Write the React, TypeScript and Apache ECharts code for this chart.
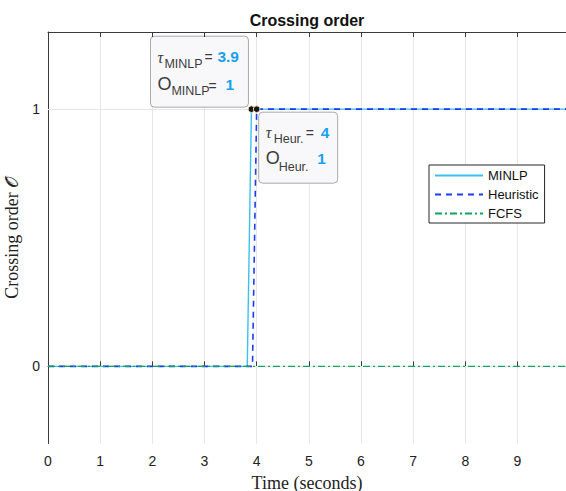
import React, { useEffect, useRef } from "react";
import * as echarts from "echarts";

// ---- data ----
const xTickValues = [0, 1, 2, 3, 4, 5, 6, 7, 8, 9];
const yTickValues = [0, 1];
const minlpTime = [0, 3.82, 3.9, 10];
const minlpOrder = [0, 0, 1, 1];
const heurTime = [0, 3.92, 4.0, 10];
const heurOrder = [0, 0, 1, 1];
const fcfsTime = [0, 10];
const fcfsOrder = [0, 0];
const seriesNames = ["MINLP", "Heuristic", "FCFS"];
const tipMinlp = { tau: 3.9, order: 1 };
const tipHeur = { tau: 4, order: 1 };

const X_MIN = 0;
const X_MAX = 9.93;
const Y_MIN = -0.3;
const Y_MAX = 1.3;

const SANS = "'Liberation Sans', Arial, Helvetica, sans-serif";
const SERIF = "'Liberation Serif', 'DejaVu Serif', serif";
const AXIS_COLOR = "#3a3a3a";
const GRID_COLOR = "#e6e6e6";
const VAL_COLOR = "#1b9ff0";
const TXT_COLOR = "#3c3c3c";

const zip = (xs: number[], ys: number[]) => xs.map((x, i) => [x, ys[i]]);

export default function App() {
  const ref = useRef<HTMLDivElement>(null);

  useEffect(() => {
    if (!ref.current) return;
    const chart = echarts.init(ref.current, undefined, { renderer: "svg" });

    const option: any = {
      animation: false,
      backgroundColor: "#ffffff",
      title: {
        text: "Crossing order",
        left: 307,
        top: 12,
        textAlign: "center",
        padding: 0,
        textStyle: { fontFamily: SANS, fontSize: 16, fontWeight: "bold", color: "#111" },
      },
      legend: {
        data: seriesNames,
        orient: "vertical",
        left: 429,
        top: 165,
        padding: [4, 6, 3, 5],
        itemWidth: 48,
        itemHeight: 14,
        itemGap: 6,
        borderColor: "#262626",
        borderWidth: 1,
        backgroundColor: "#ffffff",
        itemStyle: { opacity: 0 },
        textStyle: { fontFamily: SANS, fontSize: 13, color: "#111" },
      },
      grid: { left: 48, right: 0, top: 32, bottom: 47.5, containLabel: false, outerBoundsMode: "none" },
      xAxis: [
        {
          type: "value",
          min: X_MIN,
          max: X_MAX,
          interval: 1,
          position: "bottom",
          name: "Time (seconds)",
          nameLocation: "middle",
          nameGap: 30,
          nameTextStyle: { fontFamily: SERIF, fontSize: 18, color: "#222" },
          axisLine: { show: true, lineStyle: { color: AXIS_COLOR, width: 1 } },
          axisTick: { show: true, inside: true, length: 5, lineStyle: { color: AXIS_COLOR } },
          axisLabel: {
            fontFamily: SANS,
            fontSize: 14,
            color: "#222",
            margin: 10,
            showMaxLabel: false,
            formatter: (v: number) => (xTickValues.includes(v) ? String(v) : ""),
          },
          splitLine: { show: true, lineStyle: { color: GRID_COLOR, width: 1 } },
        },
        {
          type: "value",
          min: X_MIN,
          max: X_MAX,
          interval: 1,
          position: "top",
          axisLine: { show: true, lineStyle: { color: AXIS_COLOR, width: 1 } },
          axisTick: { show: true, inside: true, length: 5, lineStyle: { color: AXIS_COLOR } },
          axisLabel: { show: false },
          splitLine: { show: false },
        },
      ],
      yAxis: {
        type: "value",
        min: Y_MIN,
        max: Y_MAX,
        name: "Crossing order 𝒪",
        nameLocation: "middle",
        nameGap: 22,
        nameRotate: 90,
        nameTextStyle: { fontFamily: SERIF, fontSize: 18, color: "#222" },
        axisLine: { show: true, lineStyle: { color: AXIS_COLOR, width: 1 } },
        axisTick: {
          show: true,
          inside: true,
          length: 5,
          customValues: yTickValues,
          lineStyle: { color: AXIS_COLOR },
        },
        axisLabel: {
          fontFamily: SANS,
          fontSize: 14,
          color: "#222",
          margin: 8,
          customValues: yTickValues,
        },
        splitLine: { show: false },
      },
      series: [
        {
          name: seriesNames[0],
          type: "line",
          data: zip(minlpTime, minlpOrder),
          symbol: "none",
          lineStyle: { color: "#3cc0f0", width: 1.4, type: "solid" },
          itemStyle: { color: "#3cc0f0" },
          z: 3,
        },
        {
          name: seriesNames[1],
          type: "line",
          data: zip(heurTime, heurOrder),
          symbol: "none",
          lineStyle: { color: "#1a3cf2", width: 1.6, type: [6, 5] },
          itemStyle: { color: "#1a3cf2" },
          z: 4,
        },
        {
          name: seriesNames[2],
          type: "line",
          data: zip(fcfsTime, fcfsOrder),
          symbol: "none",
          lineStyle: { color: "#10a65a", width: 1.4, type: [7, 3, 2, 3] },
          itemStyle: { color: "#10a65a" },
          z: 5,
          markLine: {
            silent: true,
            z: 1,
            symbol: "none",
            label: { show: false },
            lineStyle: { color: GRID_COLOR, width: 1, type: "solid" },
            data: yTickValues.map((v) => ({ yAxis: v })),
          },
        },
      ],
    };

    chart.setOption(option);

    const p1 = chart.convertToPixel({ xAxisIndex: 0, yAxisIndex: 0 }, [tipMinlp.tau, tipMinlp.order]) as number[];
    const p2 = chart.convertToPixel({ xAxisIndex: 0, yAxisIndex: 0 }, [tipHeur.tau, tipHeur.order]) as number[];

    const txt = (x: number, y: number, text: string, style: any) => ({
      type: "text",
      x,
      y,
      style: { text, align: "left", verticalAlign: "middle", fill: TXT_COLOR, fontFamily: SANS, ...style },
    });
    const boxStyle = { fill: "#f8f8fb", stroke: "#a9a9a9", lineWidth: 1 };

    chart.setOption({
      graphic: [
        {
          type: "group",
          x: p1[0],
          y: p1[1],
          z: 100,
          children: [
            { type: "rect", shape: { x: -101, y: -73, width: 98, height: 71, r: 4 }, style: boxStyle },
            txt(-94, -52, "τ", { fontFamily: SERIF, fontStyle: "italic", fontSize: 16 }),
            txt(-87, -45, "MINLP", { fontSize: 12.5 }),
            txt(-47, -52, "=", { fontSize: 14 }),
            txt(-34, -53, String(tipMinlp.tau), { fontSize: 15.5, fontWeight: "bold", fill: VAL_COLOR }),
            txt(-94, -25, "O", { fontSize: 18 }),
            txt(-80, -18, "MINLP", { fontSize: 12.5 }),
            txt(-43, -23, "=", { fontSize: 14 }),
            txt(-26, -25, String(tipMinlp.order), { fontSize: 15.5, fontWeight: "bold", fill: VAL_COLOR }),
          ],
        },
        {
          type: "group",
          x: p2[0],
          y: p2[1],
          z: 100,
          children: [
            { type: "rect", shape: { x: 2, y: 3, width: 79, height: 71, r: 4 }, style: boxStyle },
            txt(9, 23, "τ", { fontFamily: SERIF, fontStyle: "italic", fontSize: 16 }),
            txt(17, 30, "Heur.", { fontSize: 12.5 }),
            txt(49, 24, "=", { fontSize: 14 }),
            txt(64, 23, String(tipHeur.tau), { fontSize: 15.5, fontWeight: "bold", fill: VAL_COLOR }),
            txt(9, 49, "O", { fontSize: 18 }),
            txt(22, 57.5, "Heur.", { fontSize: 12.5 }),
            txt(60.5, 49, String(tipHeur.order), { fontSize: 15.5, fontWeight: "bold", fill: VAL_COLOR }),
          ],
        },
        {
          type: "circle",
          z: 101,
          shape: { cx: p1[0], cy: p1[1], r: 3.3 },
          style: { fill: "#151515", stroke: "#efe6b4", lineWidth: 1 },
        },
        {
          type: "circle",
          z: 101,
          shape: { cx: p2[0], cy: p2[1], r: 3.3 },
          style: { fill: "#151515", stroke: "#efe6b4", lineWidth: 1 },
        },
      ],
    });

    return () => chart.dispose();
  }, []);

  return (
    <div
      ref={ref}
      style={{ position: "fixed", left: 0, top: 0, width: 566, height: 491, background: "#fff" }}
    />
  );
}
